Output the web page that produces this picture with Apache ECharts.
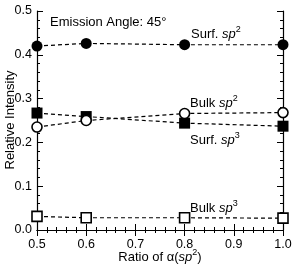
<!DOCTYPE html>
<html>
<head>
<meta charset="utf-8">
<script src="https://cdn.jsdelivr.net/npm/echarts@6/dist/echarts.min.js"></script>
<style>
html,body{margin:0;padding:0;background:#fff;}
#main{width:295px;height:267px;}
</style>
</head>
<body>
<div id="main"></div>
<script>
var ratios = [0.5, 0.6, 0.8, 1.0];
var surfSp2 = [0.420, 0.426, 0.423, 0.423];
var surfSp3 = [0.267, 0.259, 0.244, 0.237];
var bulkSp2 = [0.235, 0.250, 0.266, 0.268];
var bulkSp3 = [0.031, 0.028, 0.028, 0.027];

function pairs(ys){
    return ratios.map(function(x, i){ return [x, ys[i]]; });
}

var font = '"Liberation Sans", Arial, sans-serif';
var chart = echarts.init(document.getElementById('main'));

function mk(name, data, symbol, filled){
    return {
        name: name,
        type: 'line',
        data: pairs(data),
        symbol: symbol,
        symbolSize: filled ? 11 : 10,
        showAllSymbol: true,
        lineStyle: {color: '#000', width: 1.2, type: [4, 3]},
        itemStyle: {
            color: filled ? '#000' : '#fff',
            borderColor: '#000',
            borderWidth: filled ? 0 : 1.6
        },
        z: 3,
        animation: false
    };
}

var sup = {fontSize: 9, verticalAlign: 'bottom', padding: [0, 0, 9, 0], fontFamily: font, fill: '#000'};
var ital = {fontStyle: 'italic', fontSize: 13, fontFamily: font};

function note(x, y, txt){
    return {type: 'text', left: x, top: y, z: 10,
        style: {text: txt, font: '13px ' + font, fill: '#000', rich: {i: ital, s: sup}}};
}

var option = {
    animation: false,
    grid: {left: 37, right: 12, top: 11, bottom: 37, outerBoundsMode: 'none', containLabel: false},
    xAxis: [{
        type: 'value', min: 0.5, max: 1.0, interval: 0.1,
        axisLine: {lineStyle: {color: '#000', width: 1.2}},
        axisTick: {inside: true, length: 6, lineStyle: {color: '#000'}},
        minorTick: {show: true, splitNumber: 5, length: 3, lineStyle: {color: '#000'}},
        splitLine: {show: false},
        axisLabel: {color: '#000', fontSize: 12.5, fontFamily: font, margin: 8,
            formatter: function(v){ return v.toFixed(1); }}
    }, {
        type: 'value', min: 0.5, max: 1.0, interval: 0.1, position: 'top',
        axisLine: {show: true, lineStyle: {color: '#000', width: 1.2}},
        axisTick: {show: true, inside: true, length: 6, lineStyle: {color: '#000'}},
        minorTick: {show: true, splitNumber: 5, length: 3, lineStyle: {color: '#000'}},
        splitLine: {show: false},
        axisLabel: {show: false}
    }],
    yAxis: [{
        type: 'value', min: 0, max: 0.5, interval: 0.1,
        axisLine: {show: true, lineStyle: {color: '#000', width: 1.2}},
        axisTick: {show: true, inside: true, length: 6, lineStyle: {color: '#000'}},
        minorTick: {show: true, splitNumber: 5, length: 3, lineStyle: {color: '#000'}},
        splitLine: {show: false},
        axisLabel: {color: '#000', fontSize: 12.5, fontFamily: font, margin: 5,
            formatter: function(v){ return v.toFixed(1); }}
    }, {
        type: 'value', min: 0, max: 0.5, interval: 0.1, position: 'right',
        axisLine: {show: true, lineStyle: {color: '#000', width: 1.2}},
        axisTick: {show: true, inside: true, length: 6, lineStyle: {color: '#000'}},
        minorTick: {show: true, splitNumber: 5, length: 3, lineStyle: {color: '#000'}},
        splitLine: {show: false},
        axisLabel: {show: false}
    }],
    series: [
        mk('Surf. sp2', surfSp2, 'circle', true),
        mk('Surf. sp3', surfSp3, 'rect', true),
        mk('Bulk sp2', bulkSp2, 'circle', false),
        mk('Bulk sp3', bulkSp3, 'rect', false)
    ],
    graphic: [
        // axis titles
        {type: 'text', x: 10, y: 120, rotation: Math.PI / 2,
            style: {text: 'Relative Intensity', font: '13px ' + font, fill: '#000', align: 'center', verticalAlign: 'middle'}},
        {type: 'text', x: 160, y: 257,
            style: {text: 'Ratio of α({i|sp}{s|2})', font: '13px ' + font, fill: '#000', align: 'center', verticalAlign: 'middle',
                rich: {i: ital, s: sup}}},
        {type: 'text', left: 50, top: 16, style: {text: 'Emission Angle: 45°', font: '13px ' + font, fill: '#000'}},
        note(191, 25, 'Surf. {i|sp}{s|2}'),
        note(190, 94, 'Bulk {i|sp}{s|2}'),
        note(190, 131, 'Surf. {i|sp}{s|3}'),
        note(190, 199, 'Bulk {i|sp}{s|3}')
    ]
};
chart.setOption(option);
</script>
</body>
</html>
